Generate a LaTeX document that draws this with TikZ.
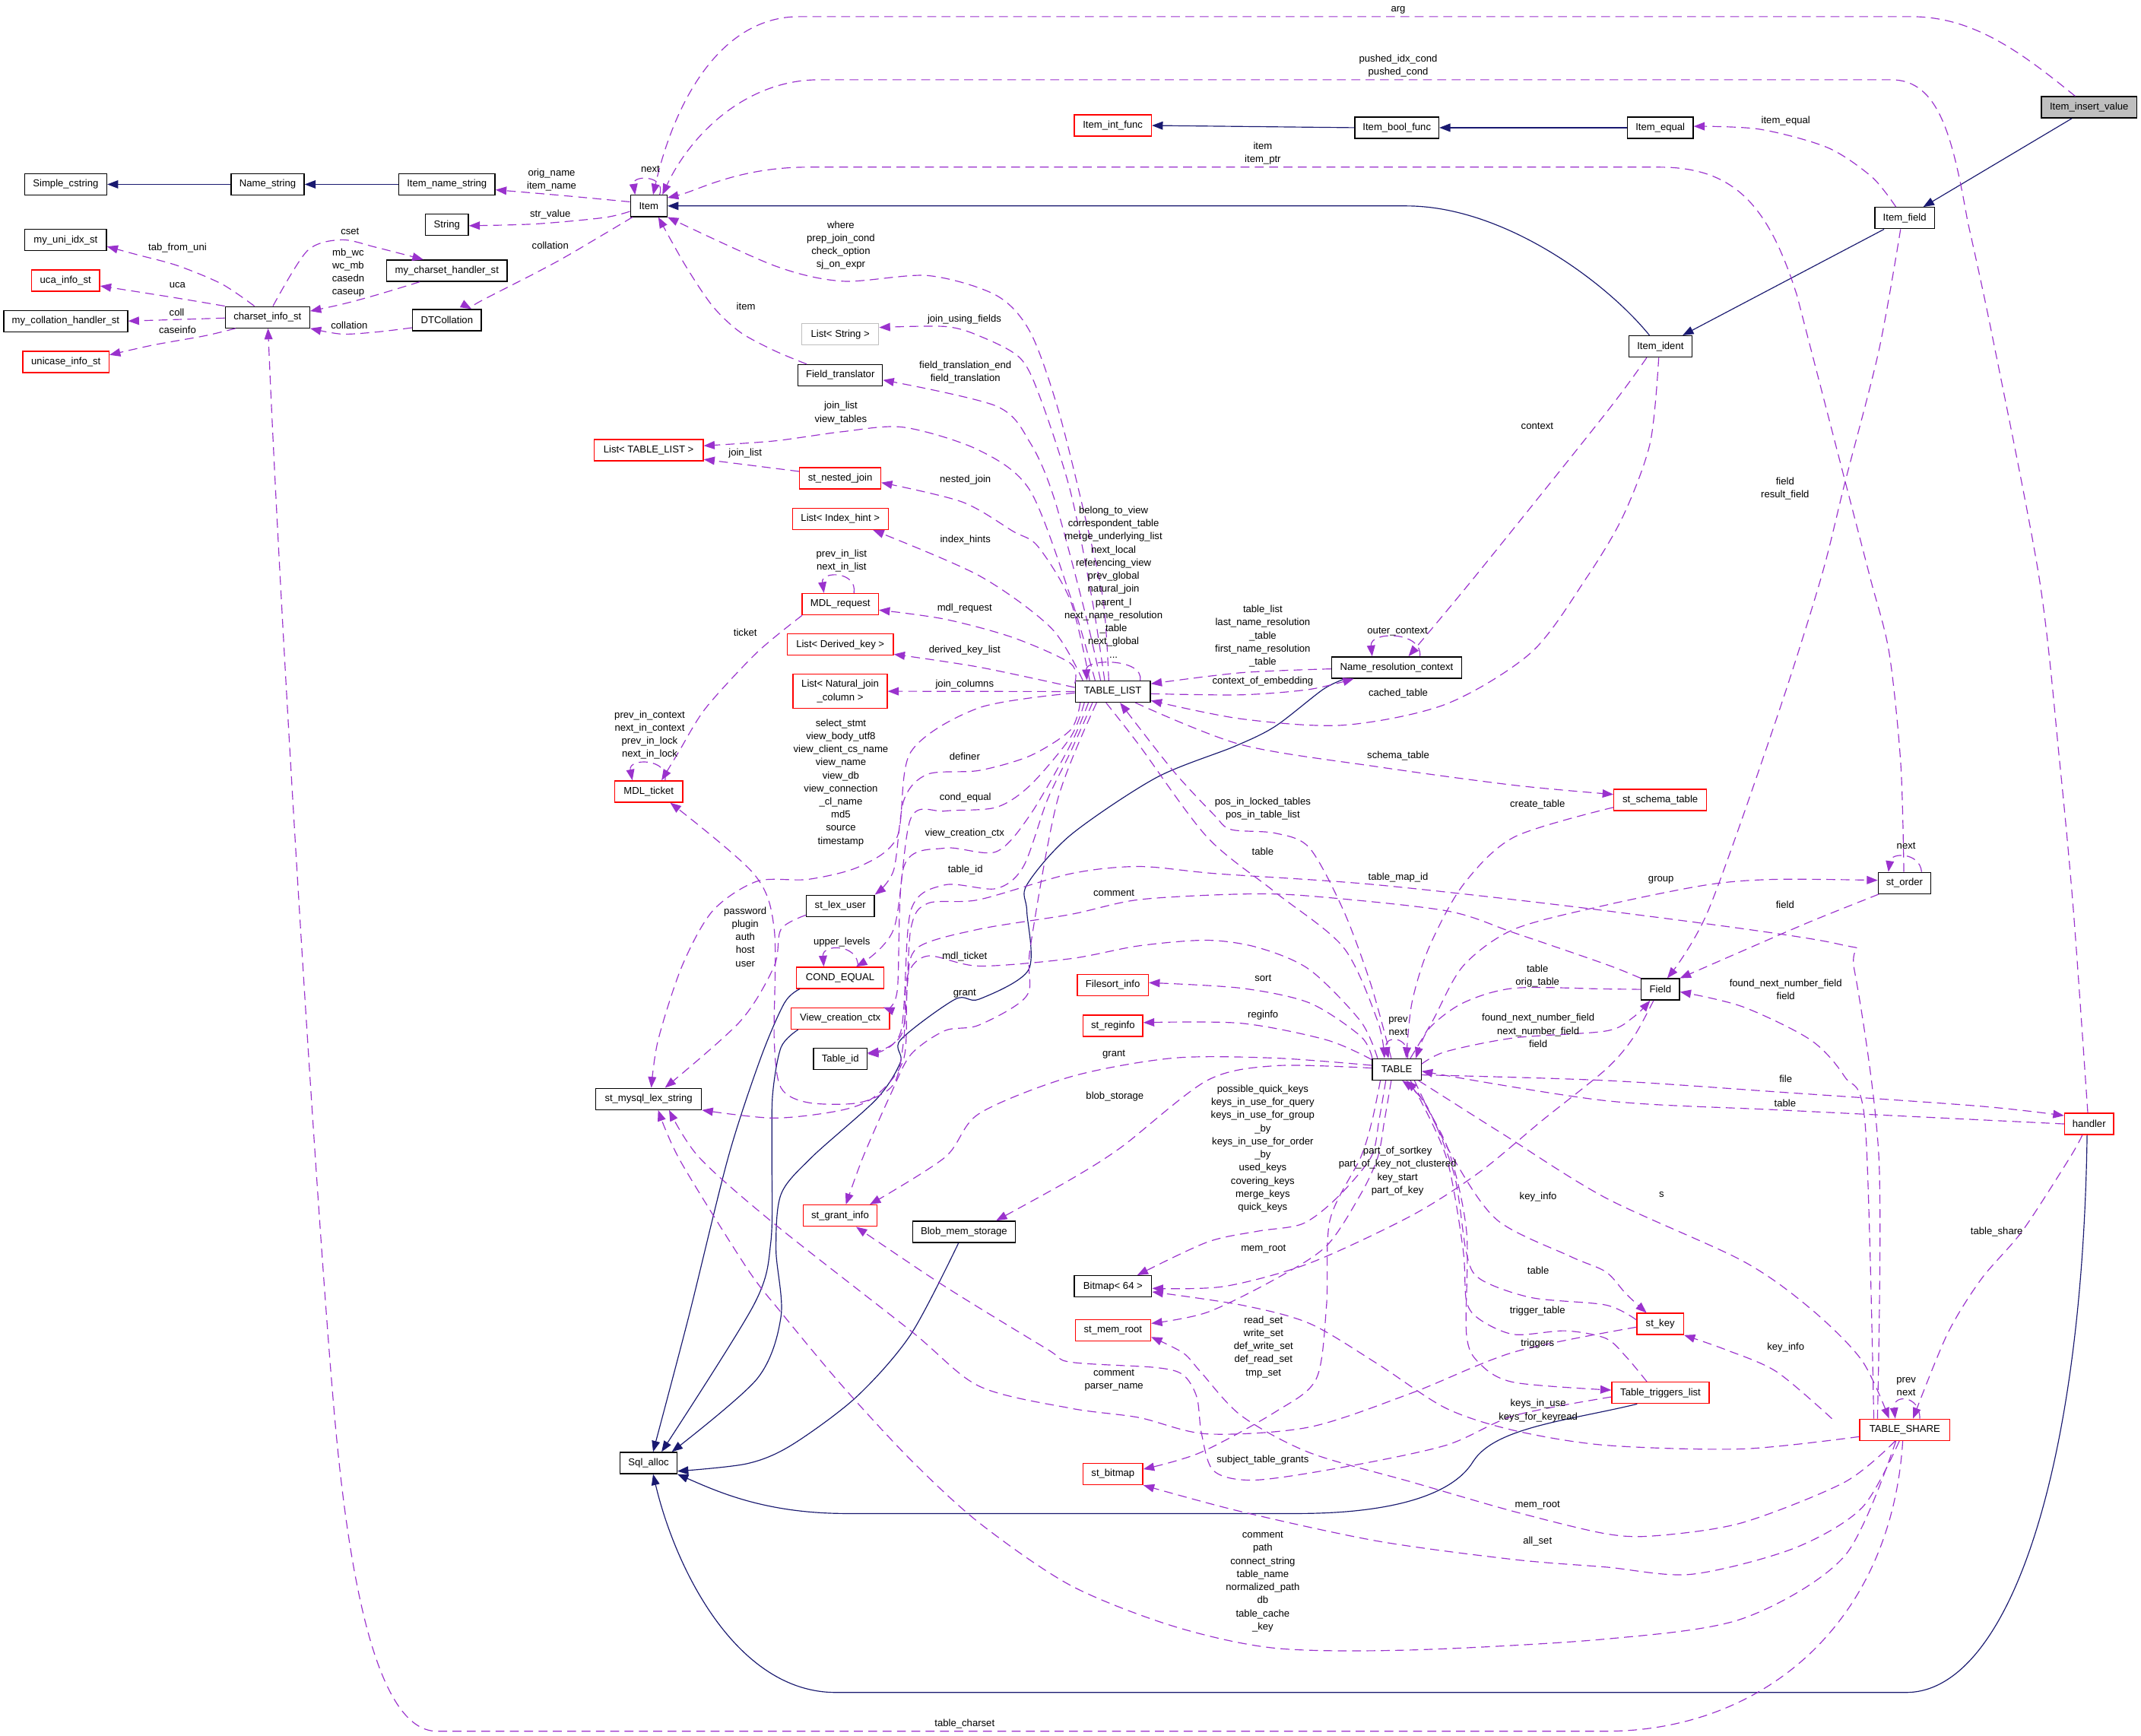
\documentclass[tikz,border=0pt]{standalone}
\usepackage{fontspec}
\setmainfont{Liberation Sans}
\usetikzlibrary{arrows.meta}
\definecolor{edgep}{HTML}{9A32CD}
\definecolor{edgeb}{HTML}{191970}
\definecolor{boxred}{HTML}{FF0000}
\definecolor{boxgrey}{HTML}{BFBFBF}
\begin{document}
\begin{tikzpicture}[x=1pt,y=-1pt,
  every node/.style={font=\fontsize{7.3}{9.6}\selectfont},
  box/.style={draw=black,line width=0.75pt,fill=white,minimum height=15.6pt,inner sep=0pt,align=center},
  rbox/.style={box,draw=boxred},
  gbox/.style={box,draw=boxgrey},
  lbl/.style={inner sep=0pt,align=center},
  dep/.style={draw=edgep,line width=0.65pt,dash pattern=on 6.5pt off 4pt,-{Triangle[length=8pt,width=6pt]}},
  inh/.style={draw=edgeb,line width=0.65pt,-{Triangle[length=8pt,width=6pt]}},
  sm/.style={smooth,tension=0.5}
]
\fill[white] (0,0) rectangle (1568,1271);
\useasboundingbox (0,0) rectangle (1568,1271);

% ---------------- nodes ----------------
\node[box,minimum width=60.2pt] (nSC) at (48.1,135) {Simple\_cstring};
\node[box,minimum width=53.5pt] (nNS) at (196,135) {Name\_string};
\node[box,minimum width=70.5pt] (nINS) at (327.3,135) {Item\_name\_string};
\node[box,minimum width=31.5pt] (nString) at (327.3,164.7) {String};
\node[box,minimum width=59.7pt] (nUni) at (48.1,175.8) {my\_uni\_idx\_st};
\node[rbox,minimum width=50pt] (nUca) at (48,205.4) {uca\_info\_st};
\node[box,minimum width=90.7pt] (nColl) at (48.1,235.1) {my\_collation\_handler\_st};
\node[rbox,minimum width=63pt] (nUnicase) at (48.3,265) {unicase\_info\_st};
\node[box,minimum width=61.8pt] (nCS) at (195.9,232.3) {charset\_info\_st};
\node[box,minimum width=88pt] (nMCH) at (327.3,198.2) {my\_charset\_handler\_st};
\node[box,minimum width=50.5pt] (nDTC) at (327.3,234.4) {DTCollation};
\node[box,minimum width=26.8pt] (nItem) at (475.1,150.8) {Item};
\node[gbox,minimum width=56.2pt] (nLStr) at (615.4,244.8) {List< String >};
\node[box,minimum width=61.8pt] (nFT) at (615.4,274.8) {Field\_translator};
\node[rbox,minimum width=80pt] (nLTL) at (475,329.7) {List< TABLE\_LIST >};
\node[rbox,minimum width=59.5pt] (nNJ) at (615.3,350.2) {st\_nested\_join};
\node[rbox,minimum width=70.2pt] (nLIH) at (615.4,380) {List< Index\_hint >};
\node[rbox,minimum width=56.5pt] (nIInt) at (815,91.9) {Item\_int\_func};
\node[box,minimum width=61.5pt] (nIBool) at (1023,93.5) {Item\_bool\_func};
\node[box,fill=boxgrey,minimum width=70pt] (nIIV) at (1530,78.6) {Item\_insert\_value};
\node[box,minimum width=48.2pt] (nIEq) at (1215.9,93.5) {Item\_equal};
\node[box,minimum width=43.8pt] (nIField) at (1394.9,159.7) {Item\_field};
\node[box,minimum width=46pt] (nIIdent) at (1216,253.7) {Item\_ident};
\node[rbox,minimum width=55.8pt] (nMReq) at (615.4,442.4) {MDL\_request};
\node[rbox,minimum width=77.8pt] (nLDK) at (615.4,472) {List< Derived\_key >};
\node[rbox,minimum width=69pt,minimum height=25.1pt] (nLNJ) at (615.3,506.2) {List< Natural\_join\\\_column >};
\node[rbox,minimum width=49.8pt] (nMTick) at (475.1,579.6) {MDL\_ticket};
\node[box,minimum width=49.8pt] (nLexUser) at (615.4,663.3) {st\_lex\_user};
\node[rbox,minimum width=64pt] (nCond) at (615.3,716) {COND\_EQUAL};
\node[rbox,minimum width=72.2pt] (nVCC) at (615.4,745.8) {View\_creation\_ctx};
\node[box,minimum width=39.2pt] (nTid) at (615.4,775.5) {Table\_id};
\node[box,minimum width=77.5pt] (nMLS) at (475,804.7) {st\_mysql\_lex\_string};
\node[box,minimum width=55pt] (nTL) at (815,506.4) {TABLE\_LIST};
\node[box,minimum width=95.2pt] (nNRC) at (1022.9,488.8) {Name\_resolution\_context};
\node[rbox,minimum width=52pt] (nFSI) at (815,721.2) {Filesort\_info};
\node[rbox,minimum width=43.7pt] (nRegi) at (815.1,751.2) {st\_reginfo};
\node[box,minimum width=35.8pt] (nTable) at (1022.9,783.1) {TABLE};
\node[rbox,minimum width=67.8pt] (nSchema) at (1215.9,585.7) {st\_schema\_table};
\node[box,minimum width=38.5pt] (nOrder) at (1394.8,646.6) {st\_order};
\node[box,minimum width=28pt] (nField) at (1216,724.5) {Field};
\node[rbox,minimum width=36pt] (nHandler) at (1530,823) {handler};
\node[rbox,minimum width=54pt] (nGrant) at (615.3,890.2) {st\_grant\_info};
\node[box,minimum width=75pt] (nBlob) at (706,902) {Blob\_mem\_storage};
\node[box,minimum width=41.5pt] (nSqlAlloc) at (475,1071.3) {Sql\_alloc};
\node[box,minimum width=56.7pt] (nBM64) at (815.1,942) {Bitmap< 64 >};
\node[rbox,minimum width=55.3pt] (nMemRoot) at (815.1,974) {st\_mem\_root};
\node[rbox,minimum width=43.7pt] (nBitmap) at (815.1,1079.4) {st\_bitmap};
\node[rbox,minimum width=34.2pt] (nKey) at (1215.9,969.5) {st\_key};
\node[rbox,minimum width=71.3pt] (nTTL) at (1216.1,1019.9) {Table\_triggers\_list};
\node[rbox,minimum width=66pt] (nShare) at (1395,1047) {TABLE\_SHARE};

% ---------------- inheritance ----------------
\draw[inh] (nNS.west) -- (nSC.east);
\draw[inh] (nINS.west) -- (nNS.east);
\draw[inh] (nIBool.west) -- (nIInt.east);
\draw[inh] (nIEq.west) -- (nIBool.east);
\draw[inh] ([xshift=-12.7pt]nIIV.south) -- ([xshift=13.6pt]nIField.north);
\draw[inh] ([xshift=-15.1pt]nIField.south) -- ([xshift=16.3pt]nIIdent.north);
\draw[inh] ([xshift=-8pt]nIIdent.north) .. controls (1175,205) and (1100,150.8) .. (1030,150.8) -- (nItem.east);
\draw[inh] plot[sm] coordinates {([xshift=-29.5pt]nCond.south) (574.5,734.4) (557,775) (533.3,847.5) (504.5,963.7) ([xshift=3.3pt]nSqlAlloc.north)};
\draw[inh] plot[sm] coordinates {([xshift=-30.9pt]nVCC.south) (572,766.9) (565.8,802) (565.3,847.4) (564.5,909.6) (552,955.6) ([xshift=9.5pt]nSqlAlloc.north)};
\draw[inh] plot[sm] coordinates {([xshift=-37.6pt]nNRC.south) (969,504.8) (934,531.8) (904,546.6) (846.5,569.6) (784,611.5) (752,648) (752,666.9) (753.3,710.1) (717,731.7) (699.5,731.7) (659.5,761.5) (659.5,777.7) (642,804.7) (594.5,847.4) (572,874.5) (568.3,915) (572,963.7) (554.5,1009.6) ([xshift=17pt]nSqlAlloc.north)};
\draw[inh] plot[sm] coordinates {([xshift=-4pt]nBlob.south) (667,977.2) (627,1023.1) (579.5,1058.3) (547,1071.8) ([yshift=-6pt]nSqlAlloc.east)};
\draw[inh] ([xshift=-17.1pt]nTTL.south) .. controls (1150,1040) and (1095,1045) .. (1079,1070) .. controls (1062,1098) and (1010,1108.3) .. (950,1108.3) -- (620,1108.3) .. controls (560,1108.3) and (525,1092) .. (nSqlAlloc.south east);
\draw[inh] ([xshift=-1.5pt]nHandler.south) .. controls (1525,1080) and (1470,1239.3) .. (1396,1239.3) -- (612,1239.3) .. controls (540,1239.3) and (495,1150) .. ([xshift=3.3pt]nSqlAlloc.south);

% ---------------- usage (dashed) ----------------
% top region
\draw[dep] ([xshift=-10.2pt]nIIV.north) .. controls (1480,38) and (1445,12.2) .. (1400,12.2) -- (585,12.2) .. controls (530,12.2) and (495,70) .. ([xshift=3.2pt]nItem.north);
\draw[dep] plot[sm] coordinates {([xshift=-1pt]nHandler.north) (1518.5,666.9) (1508.5,558.8) (1493.5,423.7) (1458.5,243.2) (1441,162.1)} .. controls (1430,100) and (1420,58.4) .. (1385,58.4) -- (600,58.4) .. controls (545,58.4) and (505,100) .. ([xshift=10pt]nItem.north);
\draw[dep] plot[sm] coordinates {([xshift=-0.5pt]nOrder.north) (1392,558.8) (1383.5,477.7) (1369.8,423.7) (1351,351.3) (1316,216.2)} .. controls (1295,150) and (1270,122.4) .. (1215,122.4) -- (592,122.4) .. controls (540,122.4) and (510,140) .. ([yshift=6pt]nItem.east);
\draw[dep] plot[sm] coordinates {([xshift=-6.4pt]nIField.north) (1371,129.7) (1338.5,108.1) (1288.5,94.6) ([yshift=1pt]nIEq.east)};
\draw[dep] plot[sm] coordinates {([xshift=-3pt]nIField.south) (1376,256.7) (1351,354) (1333.5,423.7) (1301,526.4) (1251,666.9) ([xshift=5pt]nField.north)};
\draw[dep] plot[sm] coordinates {([xshift=-10pt]nIIdent.south) (1176,302.6) (1079,423.7) ([xshift=8.6pt]nNRC.north)};
\draw[dep] plot[sm] coordinates {([xshift=-1.2pt]nIIdent.south) (1208.5,324.3) (1188.5,378.3) (1161.5,423.7) (1121.5,477.7) (1059,515.6) (984,531) (909,526.4) ([yshift=-6.6pt]nTL.east)};
\draw[dep] ([xshift=8pt]nItem.north) .. controls (488,128) and (463,128) .. ([xshift=-10pt]nItem.north);

% left region
\draw[dep] plot[sm] coordinates {([yshift=3pt]nItem.west) (410,143) ([yshift=-4pt]nINS.east)};
\draw[dep] plot[sm] coordinates {([yshift=-4pt]nItem.west) (442,159.4) (392,164) ([yshift=-0.6pt]nString.east)};
\draw[dep] plot[sm] coordinates {([xshift=-11.8pt]nItem.south) (417,186.4) (392,200) (350,221.6) ([xshift=18pt]nDTC.north)};
\draw[dep] plot[sm] coordinates {([xshift=-9.6pt]nCS.north) (162.5,208) (130,194.5) (100,186.4) ([yshift=-4.7pt]nUni.east)};
\draw[dep] plot[sm] coordinates {(nCS.north west) (125,217.5) ([yshift=-4pt]nUca.east)};
\draw[dep] ([yshift=-0.6pt]nCS.west) -- (nColl.east);
\draw[dep] plot[sm] coordinates {([xshift=-23.4pt]nCS.south) (150,245.9) (112.5,252.6) ([yshift=5.1pt]nUnicase.east)};
\draw[dep] plot[sm] coordinates {([xshift=4pt]nCS.north) (225,183.7) (250,175.6) (275,181) ([xshift=-17.3pt]nMCH.north)};
\draw[dep] plot[sm] coordinates {([xshift=-19.8pt]nMCH.south) (275,216.2) (250,222.9) ([yshift=4.5pt]nCS.east)};
\draw[dep] plot[sm] coordinates {([yshift=-5.6pt]nDTC.west) (275,243.2) (250,244.6) (nCS.south east)};

% TABLE_LIST upward
\draw[dep] plot[sm] coordinates {([xshift=-3pt]nTL.north) (808,440) (795,380) (775,300) (754.5,243.2) (729.5,216.2) (679.5,201.8) (617,205.9) (567,194.5) (nItem.south east)};
\draw[dep] plot[sm] coordinates {([xshift=-24.6pt]nFT.north) (567,256.7) (542,243.2) (522,224.3) (502,194.5) ([xshift=7pt]nItem.south)};
\draw[dep] plot[sm] coordinates {([xshift=-6pt]nTL.north) (800,440) (784,360) (762,291.8) (747,262.1) (717,245.9) (692,239.1) ([yshift=5pt]nLStr.east)};
\draw[dep] plot[sm] coordinates {([xshift=-9pt]nTL.north) (795,450) (772,364.8) (754.5,324.3) (729.5,297.3) ([yshift=-3.5pt]nFT.east)};
\draw[dep] plot[sm] coordinates {([xshift=-13pt]nTL.north) (785,440) (754.5,359.4) (717,329.7) (662,312.9) (617,316.1) (567,322.9) ([yshift=3.3pt]nLTL.east)};
\draw[dep] ([yshift=5pt]nNJ.west) -- ([yshift=-6.7pt]nLTL.east);
\draw[dep] plot[sm] coordinates {([xshift=-17pt]nTL.north) (784,440) (760,400) (742,389.1) (704.5,367.5) ([yshift=-3.2pt]nNJ.east)};
\draw[dep] plot[sm] coordinates {([xshift=-22pt]nTL.north) (770,460) (717,421.5) ([xshift=24pt]nLIH.south)};
\draw[dep] ([xshift=20pt]nTL.north) .. controls (838,482) and (795,482) .. ([xshift=-19pt]nTL.north);
\draw[dep] ([xshift=10pt]nMReq.north) .. controls (628,418) and (601,418) .. ([xshift=-12pt]nMReq.north);
\draw[dep] plot[sm] coordinates {([yshift=6pt]nTL.west) (784,485.8) (742,466.9) (692,453.4) ([yshift=-4.3pt]nMReq.east)};
\draw[dep] plot[sm] coordinates {([xshift=-27.9pt]nMReq.south) (554.5,477.7) (517,518.3) (497,550.7) ([xshift=9.4pt]nMTick.north)};
\draw[dep] ([xshift=12pt]nMTick.north) .. controls (490,555) and (460,555) .. ([xshift=-12pt]nMTick.north);
\draw[dep] plot[sm] coordinates {([yshift=3pt]nTL.west) (717,488.5) ([yshift=-7.1pt]nLDK.east)};
\draw[dep] (nTL.west) -- (nLNJ.east);
\draw[dep] plot[sm] coordinates {([yshift=-1pt]nTL.west) (717,518.3) (667,550.7) (657,612.9) (629.5,634.5) (592,643.9) (554.5,645.3) (522,666.9) (499.5,707.4) (482,761.5) ([xshift=2pt]nMLS.north)};
\draw[dep] plot[sm] coordinates {([xshift=4pt]nTL.south west) (784,534.5) (754.5,553.4) (717,564.2) (679.5,566.9) (662,585.8) (654.5,637.2) (nLexUser.north east)};
\draw[dep] plot[sm] coordinates {([yshift=-6.8pt]nLexUser.west) (572,680.4) (567,707.4) (542,748) ([xshift=12pt]nMLS.north)};
\draw[dep] plot[sm] coordinates {([xshift=7pt]nTL.south west) (784,539.9) (754.5,575) (729.5,591.2) (692,593.9) (667,599.3) (654.5,680.4) ([xshift=11.7pt]nCond.north)};
\draw[dep] ([xshift=13pt]nCond.north) .. controls (629,691) and (602,691) .. ([xshift=-12pt]nCond.north);
\draw[dep] plot[sm] coordinates {([xshift=10pt]nTL.south west) (784,545.3) (754.5,596.6) (729.5,623.7) (692,621) (662,634.5) (657,726.3) ([xshift=31.6pt]nVCC.north)};
\draw[dep] plot[sm] coordinates {([xshift=13pt]nTL.south west) (784,550.7) (767,585.8) (749.5,634.5) (729.5,650.7) (692,648) (667,666.9) (659.5,756.1) ([yshift=3.8pt]nTid.east)};
\draw[dep] plot[sm] coordinates {([xshift=16pt]nTL.south west) (774.5,585.8) (754.5,693.9) (752,729) (717,750.6) (692,754.7) (667,772.3) (652,801.9) (632,847.4) ([xshift=4.2pt]nGrant.north)};

% TABLE_LIST / Name_resolution_context
\draw[dep] plot[sm] coordinates {([yshift=-1pt]nNRC.west) (909,492.6) ([yshift=5.7pt]nTL.east)};
\draw[dep] plot[sm] coordinates {([yshift=-1.6pt]nTL.east) (909,508.8) (959,504.8) ([xshift=-31.4pt]nNRC.south)};
\draw[dep] ([xshift=17pt]nNRC.north) .. controls (1042,462) and (1003,462) .. ([xshift=-18pt]nNRC.north);
\draw[dep] plot[sm] coordinates {([xshift=16.5pt]nTL.south) (909,545.3) (1009,561.5) (1109,575) ([yshift=4pt]nSchema.west)};
\draw[dep] plot[sm] coordinates {([yshift=-5.5pt]nSchema.west) (1109,612.9) (1071.5,648) (1046.5,693.9) (1034,734.4) ([xshift=7pt]nTable.north)};
\draw[dep] plot[sm] coordinates {([xshift=-4pt]nTable.north) (1004,720.9) (984,666.9) (959,620.9) (934,610.1) (901.5,607.4) (889,596.6) (859,564.2) ([xshift=5.3pt]nTL.south)};
\draw[dep] plot[sm] coordinates {([xshift=-5pt]nTL.south) (834,545.3) (884,612.9) (934,653.4) (984,693.9) (1009,747.9) ([xshift=-9pt]nTable.north)};

% TABLE west side
\draw[dep] plot[sm] coordinates {([xshift=-14pt]nTable.north) (996.5,747.9) (959,710) (921.5,693.9) (884,688.5) (834,692.6) (784,702) (717,707.4) (679.5,700) (664.5,715) (662,760) (654.5,793.9) (629.5,807.4) (592,807.4) (572,796.6) (567,761.5) (567,680.4) (552,639.8) ([xshift=15.7pt]nMTick.south)};
\draw[dep] plot[sm] coordinates {([yshift=3pt]nTable.west) (934,774.8) (859,774.8) (784,788.5) (717,815.5) (692,847.5) ([xshift=21.7pt]nGrant.north)};
\draw[dep] plot[sm] coordinates {(nField.north west) (1176,706.1) (1109,683.1) (1059,666.9) (959,656.1) (909,654.7) (834,658.8) (784,669.6) (717,680.4) (672,693.9) (664.5,720.9) (662,774.8) (642,801.9) (617,812.8) (567,818.7) (nMLS.south east)};
\draw[dep] plot[sm] coordinates {([xshift=-20pt]nShare.north) (1376,847.4) (1358,710) (1346,691.2) (1176,666.9) (1009,648) (891.5,639.8) (834,634.5) (784,639.8) (717,658.8) (679.5,661.5) (667,680.4) (660.8,756.1) ([yshift=4.5pt]nTid.east)};
\draw[dep] plot[sm] coordinates {([xshift=-17.9pt]nTable.north) (996.5,758.8) (959,734.4) (909,723.6) ([yshift=1.6pt]nFSI.east)};
\draw[dep] plot[sm] coordinates {([yshift=-1pt]nTable.north west) (971.5,761.5) (909,749.3) ([yshift=2.4pt]nRegi.east)};
\draw[dep] plot[sm] coordinates {([yshift=1pt]nTable.west) (934,780.4) (884,791.2) (821.5,839.8) (784,863.7) ([xshift=23.5pt]nBlob.north)};
\draw[dep] ([xshift=8pt]nTable.north) .. controls (1033,758) and (1013,758) .. ([xshift=-6pt]nTable.north);

% TABLE south side
\draw[dep] plot[sm] coordinates {([xshift=-8pt]nTable.south) (1010,820) (1004,847.5) (979,877.2) (954,896.1) (921.5,901.5) (884,909.6) ([xshift=17.7pt]nBM64.north)};
\draw[dep] plot[sm] coordinates {([xshift=-4pt]nTable.south) (1014,820) (1009,847.5) (996.5,874.5) (971.5,912.3) (934,936.6) (884,961) ([yshift=4.9pt]nMemRoot.east)};
\draw[dep] plot[sm] coordinates {([xshift=-12pt]nTable.south) (1005,820) (996.5,847.5) (974,893.4) (971.5,955.6) (964,1009.6) (934,1033.9) (879,1063.7) ([yshift=3.6pt]nBitmap.east)};
\draw[dep] plot[sm] coordinates {([xshift=-5pt]nField.south) (1196,760) (1176,783.1) (1130,820) (1084,858) (1034,890) (959,925) (896.5,942) ([yshift=-1.4pt]nBM64.east)};
\draw[dep] plot[sm] coordinates {([xshift=16pt]nTable.south) (1100,830) (1176,877.2) (1276,923.2) (1326,958.3) (1363.5,996.1) ([xshift=-11.5pt]nShare.north)};
\draw[dep] plot[sm] coordinates {([xshift=13pt]nTable.south) (1064,847.5) (1096.5,893.4) (1150,920) (1176,931.3) (1191,947.6) ([xshift=-10pt]nKey.north)};
\draw[dep] plot[sm] coordinates {([yshift=3pt]nKey.west) (1176,955.6) (1121.5,950.2) (1084,936.6) (1074,917.7) (1065,860) (1045,810) ([xshift=4pt]nTable.south)};
\draw[dep] plot[sm] coordinates {([xshift=-10pt]nTTL.north) (1191,993.6) (1176,980) (1146.5,974.5) (1109,977.2) (1084,966.4) (1074,952.9) (1071.5,915) (1060,850) (1040,805) ([xshift=7pt]nTable.south)};
\draw[dep] plot[sm] coordinates {([xshift=10pt]nTable.south) (1060,840) (1074,901.5) (1074,977.2) (1084,998.8) (1109,1012.3) ([yshift=2pt]nTTL.west)};
\draw[dep] plot[sm] coordinates {([yshift=-3pt]nTTL.west) (1109,1036.6) (1059,1058.3) (984,1074.3) (919,1083.8) (889,1077.2) (880,1050) (876.5,1023.1) (866.5,1006.8) (846.5,1001.4) (784,997.4) (767,988) (692,942) ([xshift=11.7pt]nGrant.south)};
\draw[dep] plot[sm] coordinates {([yshift=-2.3pt]nKey.west) (1109,990) (1034,1020) (959,1045) (884,1050) (834,1038) (784,1031.2) (717,1015) (667,974.5) (567,896.1) (512,847.5) ([xshift=15pt]nMLS.south)};

% TABLE east side
\draw[dep] plot[sm] coordinates {([yshift=-4pt]nTable.east) (1176,791.2) (1307.8,800) (1450,810) ([yshift=6.1pt]nHandler.west)};
\draw[dep] plot[sm] coordinates {(nHandler.west) (1307.3,813) (1176,806) ([yshift=-1.3pt]nTable.east)};
\draw[dep] plot[sm] coordinates {([xshift=10pt]nTable.north) (1049,747.9) (1071.5,707.4) (1109,680.4) (1176,662.8) (1251,647.8) (1301,643.9) ([yshift=2pt]nOrder.west)};
\draw[dep] plot[sm] coordinates {([xshift=-18.8pt]nOrder.south) (1326,674.8) (1276,696.4) (nField.north east)};
\draw[dep] ([xshift=12.5pt]nOrder.north) .. controls (1406,624) and (1385,624) .. ([xshift=-11.8pt]nOrder.north);
\draw[dep] plot[sm] coordinates {(nField.west) (1176,724.2) (1109,723.6) (1071.5,734.4) (1046.5,753.3) ([xshift=14pt]nTable.north)};
\draw[dep] plot[sm] coordinates {([yshift=4pt]nTable.east) (1059,770) (1109,760) (1176,755) (1196,745) ([xshift=-7.5pt]nField.south)};
\draw[dep] plot[sm] coordinates {([xshift=-22.7pt]nShare.north) (1366,823.6) (1351,788.5) (1326,761.5) (1276,737.1) ([yshift=-1.8pt]nField.east)};

% TABLE_SHARE
\draw[dep] plot[sm] coordinates {([xshift=-20pt]nShare.north west) (1301,1004.4) (1263.5,988.2) (nKey.south east)};
\draw[dep] ([xshift=11pt]nShare.north) .. controls (1406,1021) and (1386,1021) .. ([xshift=-7pt]nShare.north);
\draw[dep] plot[sm] coordinates {([xshift=-5pt]nHandler.south) (1516,847.5) (1481,901.5) (1451,936.6) (1426,977.2) ([xshift=6pt]nShare.north)};
\draw[dep] plot[sm] coordinates {([yshift=-5pt]nShare.west) (1276,1061) (1176,1058.3) (1109,1047.5) (1059,1031.2) (1009,998.8) (959,969.1) (909,955.6) ([yshift=-4pt]nBM64.east)};
\draw[dep] plot[sm] coordinates {([xshift=-7pt]nShare.south) (1351,1085.3) (1276,1115) (1213.5,1124.5) (1176,1123.1) (1109,1106.9) (1034,1085.3) (959,1063.7) (909,1036.6) (879,1004.2) (866.5,990.7) ([yshift=-5pt]nMemRoot.east)};
\draw[dep] plot[sm] coordinates {([xshift=-4pt]nShare.south) (1363.5,1104.2) (1313.5,1133.9) (1238.5,1152.8) (1176,1147.5) (1109,1142) (1009,1128.5) (909,1106.9) (nBitmap.south east)};
\draw[dep] plot[sm] coordinates {([xshift=-6.5pt]nShare.south) (1351,1139.3) (1276,1185.3) (1176,1200.2) (1034,1208.2) (934,1206.9) (859,1190.7) (784,1160.9) (717,1115) (667,1069) (617,1015) (572,961) (547,928.6) (498.3,850.2) ([xshift=7pt]nMLS.south)};
\draw[dep] ([xshift=-1.5pt]nShare.south) .. controls (1385,1190) and (1290,1267.7) .. (1176,1267.7) -- (320,1267.7) .. controls (275,1267.7) and (255,1150) .. (245,1036.7) .. controls (232,890) and (205,450) .. ([xshift=0.4pt]nCS.south);

% ---------------- labels ----------------
\node[lbl] (l1) at (1024,7.3) {arg};
\node[lbl] (l2) at (1024,48.4) {pushed\_idx\_cond\\pushed\_cond};
\node[lbl] (l3) at (924.8,112.3) {item\\item\_ptr};
\node[lbl] (l4) at (1307.8,88.4) {item\_equal};
\node[lbl] (l5) at (1307.3,357.9) {field\\result\_field};
\node[lbl] (l6) at (1125.8,312.1) {context};
\node[lbl] (l7) at (1024,508) {cached\_table};
\node[lbl] (l8) at (615.8,179.6) {where\\prep\_join\_cond\\check\_option\\sj\_on\_expr};
\node[lbl] (l9) at (546.3,224.5) {item};
\node[lbl] (l10) at (706.3,234) {join\_using\_fields};
\node[lbl] (l11) at (707,272.5) {field\_translation\_end\\field\_translation};
\node[lbl] (l12) at (615.8,302.4) {join\_list\\view\_tables};
\node[lbl] (l13) at (545.8,332.1) {join\_list};
\node[lbl] (l14) at (707,351.5) {nested\_join};
\node[lbl] (l15) at (707,395.6) {index\_hints};
\node[lbl] (l16) at (616.3,410.6) {prev\_in\_list\\next\_in\_list};
\node[lbl] (l17) at (706.5,445.3) {mdl\_request};
\node[lbl] (l18) at (545.8,462.9) {ticket};
\node[lbl] (l19) at (475.8,538.2) {prev\_in\_context\\next\_in\_context\\prev\_in\_lock\\next\_in\_lock};
\node[lbl] (l20) at (706.5,476.4) {derived\_key\_list};
\node[lbl] (l21) at (706.5,501) {join\_columns};
\node[lbl] (l22) at (615.8,573.1) {select\_stmt\\view\_body\_utf8\\view\_client\_cs\_name\\view\_name\\view\_db\\view\_connection\\\_cl\_name\\md5\\source\\timestamp};
\node[lbl] (l23) at (706.5,554.2) {definer};
\node[lbl] (l24) at (545.8,685.9) {password\\plugin\\auth\\host\\user};
\node[lbl] (l25) at (707,583.9) {cond\_equal};
\node[lbl] (l26) at (616.5,689.9) {upper\_levels};
\node[lbl] (l27) at (706.5,610.4) {view\_creation\_ctx};
\node[lbl] (l28) at (707,637.2) {table\_id};
\node[lbl] (l29) at (706.5,700.5) {mdl\_ticket};
\node[lbl] (l30) at (706.5,727.7) {grant};
\node[lbl] (l31) at (815.8,653.9) {comment};
\node[lbl] (l32) at (1024,642.6) {table\_map\_id};
\node[lbl] (l33) at (815.5,426.2) {belong\_to\_view\\correspondent\_table\\merge\_underlying\_list\\next\_local\\referencing\_view\\prev\_global\\natural\_join\\parent\_l\\next\_name\_resolution\\\_table\\next\_global\\...};
\node[lbl] (l34) at (924.8,465.9) {table\_list\\last\_name\_resolution\\\_table\\first\_name\_resolution\\\_table};
\node[lbl] (l35) at (1023.5,462.3) {outer\_context};
\node[lbl] (l36) at (924.8,499.1) {context\_of\_embedding};
\node[lbl] (l37) at (1024,553.7) {schema\_table};
\node[lbl] (l38) at (1126,589) {create\_table};
\node[lbl] (l39) at (924.8,592.2) {pos\_in\_locked\_tables\\pos\_in\_table\_list};
\node[lbl] (l40) at (924.8,623.7) {table};
\node[lbl] (l41) at (1216.5,644.2) {group};
\node[lbl] (l42) at (1307.3,662.6) {field};
\node[lbl] (l43) at (1396,619.3) {next};
\node[lbl] (l44) at (1126,714.9) {table\\orig\_table};
\node[lbl] (l45) at (1126.5,754.7) {found\_next\_number\_field\\next\_number\_field\\field};
\node[lbl] (l46) at (925,716.3) {sort};
\node[lbl] (l47) at (925,743.6) {reginfo};
\node[lbl] (l48) at (815.8,772.3) {grant};
\node[lbl] (l49) at (1024,751.5) {prev\\next};
\node[lbl] (l50) at (1307.8,790.1) {file};
\node[lbl] (l51) at (1307.3,807.9) {table};
\node[lbl] (l52) at (1307.8,724.5) {found\_next\_number\_field\\field};
\node[lbl] (l53) at (816.5,803) {blob\_storage};
\node[lbl] (l54) at (924.8,841.1) {possible\_quick\_keys\\keys\_in\_use\_for\_query\\keys\_in\_use\_for\_group\\\_by\\keys\_in\_use\_for\_order\\\_by\\used\_keys\\covering\_keys\\merge\_keys\\quick\_keys};
\node[lbl] (l55) at (1023.5,857.6) {part\_of\_sortkey\\part\_of\_key\_not\_clustered\\key\_start\\part\_of\_key};
\node[lbl] (l56) at (925.3,914.5) {mem\_root};
\node[lbl] (l57) at (1126.5,876.7) {key\_info};
\node[lbl] (l58) at (1216.8,874.5) {s};
\node[lbl] (l59) at (1126.5,930.4) {table};
\node[lbl] (l60) at (1126,959.8) {trigger\_table};
\node[lbl] (l61) at (1126,983.7) {triggers};
\node[lbl] (l62) at (925.3,986.3) {read\_set\\write\_set\\def\_write\_set\\def\_read\_set\\tmp\_set};
\node[lbl] (l63) at (815.8,1010.8) {comment\\parser\_name};
\node[lbl] (l64) at (1126.5,1032.9) {keys\_in\_use\\keys\_for\_keyread};
\node[lbl] (l65) at (924.8,1069.3) {subject\_table\_grants};
\node[lbl] (l66) at (1462.3,902.3) {table\_share};
\node[lbl] (l67) at (1307.8,986.6) {key\_info};
\node[lbl] (l68) at (1396,1015.3) {prev\\next};
\node[lbl] (l69) at (1126,1102.3) {mem\_root};
\node[lbl] (l70) at (1126,1128.8) {all\_set};
\node[lbl] (l71) at (924.8,1158.2) {comment\\path\\connect\_string\\table\_name\\normalized\_path\\db\\table\_cache\\\_key};
\node[lbl] (l72) at (706.5,1262.3) {table\_charset};
\node[lbl] (l73) at (404,131.6) {orig\_name\\item\_name};
\node[lbl] (l74) at (476.3,124) {next};
\node[lbl] (l75) at (403,157) {str\_value};
\node[lbl] (l76) at (403,180) {collation};
\node[lbl] (l77) at (130,181.6) {tab\_from\_uni};
\node[lbl] (l78) at (130,209.1) {uca};
\node[lbl] (l79) at (129.5,228.6) {coll};
\node[lbl] (l80) at (130,241.8) {caseinfo};
\node[lbl] (l81) at (256.3,169.7) {cset};
\node[lbl] (l82) at (255,199.7) {mb\_wc\\wc\_mb\\casedn\\caseup};
\node[lbl] (l83) at (255.8,238) {collation};
\end{tikzpicture}
\end{document}
